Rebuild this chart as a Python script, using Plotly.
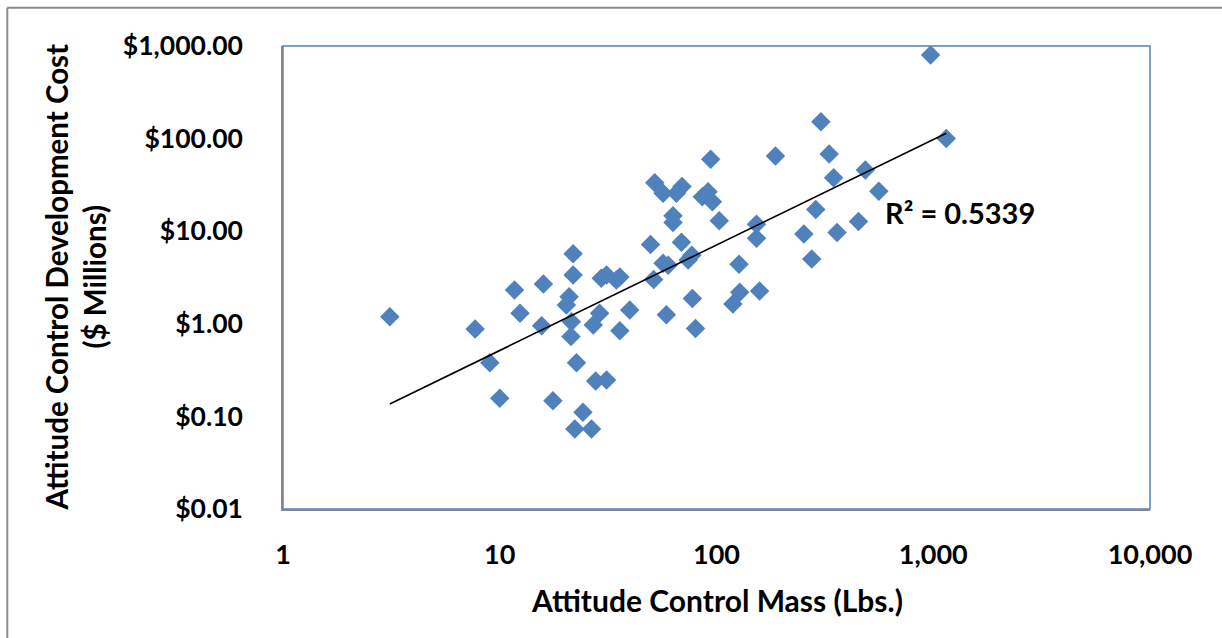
import plotly.graph_objects as go
import numpy as np

# Data
mass_lbs = [972, 1148, 303, 187, 331, 347, 486, 561, 287, 94,
            91.4, 86, 95.7, 103, 153, 153, 253, 360, 452, 275,
            127, 128, 158, 119, 21.8, 21.8, 11.7, 15.9, 20.9, 20.3,
            31.1, 29.4, 35.8, 34.5, 51.3, 56.7, 49.6, 59.8, 74, 77,
            12.4, 7.7, 3.11, 15.6, 21.4, 21.3, 28.9, 27, 39.8, 35.8,
            58.7, 77.4, 80, 9.0, 22.6, 10.0, 17.6, 27.7, 31.1, 24.2,
            22.2, 26.5, 51.9, 56.7, 65.3, 69.3, 63, 63, 68.9]
cost_musd = [800, 100, 152, 65, 68, 37.8, 45.8, 27, 17.2, 60,
             26.7, 23.6, 20.8, 13.0, 11.9, 8.4, 9.3, 9.7, 12.7, 5.0,
             4.4, 2.19, 2.26, 1.64, 5.7, 3.37, 2.32, 2.69, 1.96, 1.6,
             3.37, 3.1, 3.2, 2.97, 3.0, 4.5, 7.2, 4.3, 4.9, 5.5,
             1.30, 0.88, 1.19, 0.95, 1.05, 0.73, 1.30, 0.97, 1.41, 0.84,
             1.25, 1.88, 0.89, 0.38, 0.38, 0.157, 0.148, 0.241, 0.247, 0.111,
             0.073, 0.073, 33.4, 25.7, 25.7, 30.3, 14.7, 12.4, 7.6]

# Power trendline y = A * x^B
trend_a = 0.0374
trend_b = 1.139
r_squared_text = "R² = 0.5339"

x_tick_vals = [1, 10, 100, 1000, 10000]
x_tick_text = ["1", "10", "100", "1,000", "10,000"]
y_tick_vals = [0.01, 0.1, 1, 10, 100, 1000]
y_tick_text = ["$0.01", "$0.10", "$1.00", "$10.00", "$100.00", "$1,000.00"]

x_title = "Attitude Control Mass (Lbs.)"
y_title = "Attitude Control Development Cost<br>($ Millions)"

FONT = "Lato"
marker_color = "#4F81BD"
axis_gray = "#868686"

trend_x = np.array([min(mass_lbs), max(mass_lbs)])
trend_y = trend_a * trend_x ** trend_b

fig = go.Figure()
fig.add_trace(go.Scatter(
    x=mass_lbs, y=cost_musd, mode="markers",
    marker=dict(symbol="diamond", size=15, color=marker_color, line=dict(width=0)),
    showlegend=False, hoverinfo="x+y"))
fig.add_trace(go.Scatter(
    x=trend_x, y=trend_y, mode="lines",
    line=dict(color="black", width=1.6), showlegend=False, hoverinfo="skip"))

fig.update_layout(
    width=1222, height=638,
    margin=dict(l=283, r=72, t=46, b=129),
    paper_bgcolor="white", plot_bgcolor="white",
    font=dict(family=FONT, size=27, color="black"),
    xaxis=dict(type="log", range=[0, 4], tickvals=x_tick_vals, ticktext=x_tick_text,
               showgrid=False, zeroline=False, showline=True, linecolor=axis_gray,
               linewidth=1.5, ticks="", ticklabelstandoff=21,
               tickfont=dict(family=FONT, size=27, color="black", weight="bold")),
    yaxis=dict(type="log", range=[-2, 3], tickvals=y_tick_vals, ticktext=y_tick_text,
               showgrid=False, zeroline=False, showline=True, linecolor=axis_gray,
               linewidth=1.5, ticks="", ticklabelstandoff=33,
               tickfont=dict(family=FONT, size=26.5, color="black", weight="bold")),
    shapes=[
        dict(type="rect", xref="paper", yref="paper", x0=0, y0=0, x1=1, y1=1,
             line=dict(color=marker_color, width=1.5), layer="below"),
        # outer chart border (top and left visible)
        dict(type="line", xref="paper", yref="paper", x0=-0.318, x1=1.1, y0=1.0825, y1=1.0825,
             line=dict(color="#8C8C8C", width=2)),
        dict(type="line", xref="paper", yref="paper", x0=-0.318, x1=-0.318, y0=1.0825, y1=-0.3,
             line=dict(color="#8C8C8C", width=2)),
    ],
    annotations=[
        dict(text="<b>" + x_title + "</b>", xref="paper", yref="paper", x=0.5, y=0,
             yshift=-91, xanchor="center", yanchor="middle", showarrow=False,
             font=dict(family=FONT, size=30)),
        dict(text="<b>" + y_title + "</b>", xref="paper", yref="paper", x=0, y=0.5,
             xshift=-208, xanchor="center", yanchor="middle", showarrow=False,
             textangle=-90, font=dict(family=FONT, size=29.5)),
        dict(text="<b>" + r_squared_text + "</b>", xref="x", yref="y",
             x=2.766, y=1.207, xanchor="left", yanchor="middle", showarrow=False,
             font=dict(family=FONT, size=29)),
    ],
)

fig.write_html("out.html")
